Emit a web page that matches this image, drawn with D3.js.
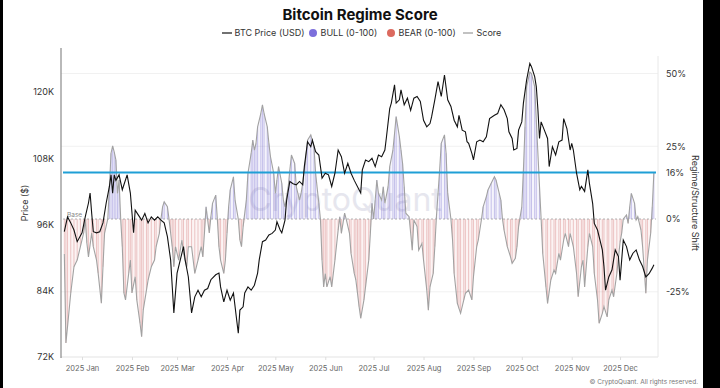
<!DOCTYPE html>
<html>
<head>
<meta charset="utf-8">
<script src="https://cdn.jsdelivr.net/npm/d3@7"></script>
<style>
  body { margin: 0; background: #fff; }
  svg { display: block; font-family: Inter, "Liberation Sans", sans-serif; }
</style>
</head>
<body>
<div id="chart"></div>
<script>
// day offsets from 2025-01-01, BTC price in thousand USD
var priceDays = [-11,-9,-7,-5,-3,0,2,4,5,6,7,9,11,13,15,17,18,19,20,21,23,25,28,30,32,33,35,37,39,41,43,45,47,49,51,53,55,57,59,61,63,64,66,68,70,72,74,76,78,80,83,85,86,88,90,92,94,96,97,98,100,101,103,105,107,109,110,112,114,116,118,120,121,123,124,126,127,129,131,133,135,137,138,140,142,143,145,147,149,151,153,155,157,159,161,163,165,167,169,173,174,176,178,180,182,184,186,188,189,191,192,194,195,197,198,200,202,204,206,208,210,212,214,216,217,219,221,223,225,227,229,231,233,234,236,238,239,240,242,243,245,247,249,251,253,256,258,260,262,264,265,267,268,270,271,273,274,276,278,279,281,282,283,284,285,287,289,290,292,294,296,298,299,301,303,304,305,307,309,310,312,314,315,317,318,320,323,324,325,327,329,331,333,334,336,338,340,342,344,346,348,350,352,354,355];
var priceVals = [94.7,97.4,96.3,95.0,92.9,94.5,97.4,99.9,101.7,98.0,94.7,94.5,94.7,96.3,99.9,102.9,105.0,101.7,105.0,104.0,105.0,102.3,105.0,101.7,94.5,98.6,97.7,96.8,98.0,96.3,97.4,96.8,97.4,96.8,96.3,93.8,89.6,80.0,87.2,89.6,92.0,89.6,86.5,80.0,82.9,84.1,82.9,84.1,84.4,86.0,86.9,87.2,84.7,82.0,84.1,82.3,83.6,78.7,76.3,80.5,81.1,83.6,84.7,84.1,85.0,87.2,89.6,92.9,93.2,94.1,94.4,95.0,96.5,95.0,94.5,96.8,100.4,103.8,103.4,103.2,103.8,103.2,106.5,111.0,110.1,111.3,109.2,108.6,104.4,105.3,105.0,102.9,105.3,109.5,108.3,105.3,107.1,105.3,104.0,101.7,105.9,107.7,107.4,108.0,106.5,108.6,108.3,109.5,111.9,117.0,118.0,121.3,118.0,118.6,120.4,117.7,118.9,116.7,118.9,119.2,118.3,114.9,113.7,114.3,115.5,118.6,121.9,119.2,123.1,118.6,117.4,114.9,113.7,115.8,113.1,112.8,111.0,110.7,108.9,107.7,111.0,111.3,111.0,111.9,115.2,115.8,116.1,117.7,116.8,115.2,112.8,111.6,109.5,109.8,113.1,114.6,118.0,122.2,125.2,124.6,122.8,121.0,116.8,111.6,114.6,113.1,111.6,106.5,110.1,108.6,111.0,111.3,115.2,113.4,109.5,110.7,109.5,105.3,102.3,102.9,102.0,105.9,103.4,99.8,96.2,95.0,91.4,88.4,84.1,86.5,87.8,91.4,90.2,85.9,93.2,92.0,89.6,90.8,91.4,89.6,88.4,86.5,87.1,88.1,88.7];

// regime / structure shift score, percent
var scoreDays = [-11,-10,-9,-7,-5,-3,-1,1,2,3,4,6,7,9,10,12,13,14,16,17,18,19,20,21,22,23,24,25,26,27,29,30,31,33,34,36,37,38,40,41,43,45,46,48,49,50,51,53,54,55,56,57,58,60,62,63,65,66,68,70,72,74,75,76,77,79,80,81,83,84,85,86,88,89,90,91,92,94,95,97,98,99,100,102,103,105,106,107,108,109,111,112,113,115,116,117,119,120,121,122,124,125,126,128,129,130,132,133,135,136,137,139,140,142,144,145,147,148,149,150,151,152,154,155,157,159,160,161,163,164,166,167,169,170,171,172,173,175,176,178,179,180,181,182,183,184,186,187,188,190,191,193,194,195,197,198,199,200,201,203,204,205,206,208,209,211,212,214,215,216,218,219,220,222,223,225,226,227,229,230,231,233,234,235,237,238,240,242,243,245,246,248,249,251,252,254,256,257,259,260,261,262,264,266,267,269,270,271,273,274,275,276,278,279,281,282,284,285,286,288,289,291,293,294,296,297,299,300,302,303,305,307,308,310,311,312,314,315,317,318,320,321,323,324,326,327,329,330,332,334,335,336,338,339,340,341,343,344,345,347,348,350,351,353,354,355];
var scoreVals = [-12,-42.6,-37,-25.4,-16.4,-14.1,-9.5,-4.8,-0.3,-8.2,-13,-4.8,-9.5,-14.1,-18.6,-28.9,-16.4,-4.8,0,11.1,22.6,25.1,23,20.3,8.8,13.4,0,-9.5,-25.4,-27.8,-18.6,-14.1,-25.4,-19.8,-27.8,-35.8,-40.4,-31.3,-24.4,-21,-16.4,-14.1,-9.5,-4.9,0,4.2,5.9,4.2,0,-4.8,-9.5,-16.4,-9.5,-14.1,-7.2,-11.8,-16.4,-9.5,-9.5,-18.7,-14.1,-9.5,-13,-4.8,4.2,-4.8,0.8,5.4,8.2,0,-9.5,-14.1,-18.7,-14.1,-4.8,4.2,10,14.5,6.5,0,-7.2,-9.5,-2.6,6.5,15.7,22.6,27.1,23.7,26,31.7,36.3,39.2,36.3,31.7,26,21.4,15.7,8.8,13.4,18,12.3,6.5,4.2,11.1,16.8,22,19.1,11.1,6.5,8.8,12.3,21.4,27.1,28.9,24.8,15.7,5.4,0,-14.1,-23.3,-18.7,-23.3,-19.8,-23.3,-14.1,-3.8,0.8,-4.9,2,0,-4.8,-11.8,-18.7,-21,-25.5,-30.1,-34.1,-27.8,-23.3,-14.1,-4.9,5.4,0,6.5,13.4,8.8,6.5,11.1,5.4,11.1,18,23.7,29.4,35.2,28.3,23.7,19.1,11.1,2,0.8,-4.8,-10.7,-0.3,-2.6,-10.7,-8.4,-14.1,-24.4,-31.3,-23.3,-18.7,-9.5,0.8,16.8,26,28.9,22.6,8.8,0,-7.2,-18.7,-29,-30.7,-32.4,-27.8,-25.5,-24.4,-27.8,-19.8,-9.5,-7.2,0,4.2,7.7,10,12.3,14.5,13.4,8.8,6.5,0,-3.8,-9.5,-13,-15.2,-13.5,-9.5,-2.6,4.2,16.8,31.7,45.5,50.5,50,45.5,34,11.1,0,-11.8,-23.3,-29,-21,-17.5,-18.7,-11.8,-14.1,-7.2,-4.9,-9.5,-4.9,-9.5,-18.7,-26.7,-16.4,-14.1,-23.3,-9.5,-4.9,-9.5,-18.7,-27.8,-35.8,-32.4,-30.1,-33.6,-27.8,-24.4,-26.7,-18.7,-8,-4.9,0,1.4,-1.5,4.2,8.8,5.4,-0.3,0.8,-3.8,-9.5,-25.5,-14.1,-4.9,4.2,16];

var latestScore = 16;
var priceTicks = [72, 84, 96, 108, 120];
var scoreTicks = [50, 25, latestScore, 0, -25];
var monthTicks = d3.range(0, 12).map(function (m) { return new Date(2025, m, 1); });

function dayToDate(d) { return new Date(2025, 0, 1 + d); }

var svgWidth = 720, svgHeight = 388;
var plot = { left: 61, right: 658, top: 70, bottom: 357 };

var svg = d3.select("#chart").append("svg")
    .attr("width", svgWidth)
    .attr("height", svgHeight);

svg.append("rect").attr("width", svgWidth).attr("height", svgHeight).attr("fill", "#fff");

var x = d3.scaleTime()
    .domain([new Date(2024, 11, 20), new Date(2025, 11, 23)])
    .range([62.7, 655.5]);

var yPrice = d3.scaleLinear().domain([72, 124]).range([plot.bottom, plot.top]);
var yScore = d3.scaleLinear().domain([-47.4, 51.2]).range([plot.bottom, plot.top]);

var price = priceDays.map(function (d, i) { return { date: dayToDate(d), v: priceVals[i] }; });
var score = scoreDays.map(function (d, i) { return { date: dayToDate(d), v: scoreVals[i] }; });

// faint grid
svg.append("g").selectAll("line")
    .data([50, 25, -25])
    .enter().append("line")
    .attr("x1", plot.left).attr("x2", plot.right)
    .attr("y1", function (d) { return yScore(d); })
    .attr("y2", function (d) { return yScore(d); })
    .attr("stroke", "#f1f1f1").attr("stroke-width", 1);

svg.append("line")
    .attr("x1", plot.left).attr("x2", plot.right).attr("y1", plot.bottom).attr("y2", plot.bottom)
    .attr("stroke", "#e3e3e3");
svg.append("line")
    .attr("x1", plot.right).attr("x2", plot.right).attr("y1", 56).attr("y2", plot.bottom)
    .attr("stroke", "#e8e8e8");

// watermark
svg.append("text")
    .attr("x", 345).attr("y", 211)
    .attr("text-anchor", "middle")
    .attr("font-size", 32)
    .attr("fill", "#dcdce8")
    .attr("opacity", 0.7)
    .text("CryptoQuant");

// light fills under the score
var areaPos = d3.area()
    .x(function (d) { return x(d.date); })
    .y0(yScore(0))
    .y1(function (d) { return yScore(Math.max(d.v, 0)); });
var areaNeg = d3.area()
    .x(function (d) { return x(d.date); })
    .y0(yScore(0))
    .y1(function (d) { return yScore(Math.min(d.v, 0)); });

svg.append("path").datum(score).attr("d", areaPos).attr("fill", "rgba(125,115,220,0.08)");
svg.append("path").datum(score).attr("d", areaNeg).attr("fill", "rgba(220,120,120,0.08)");

// BULL / BEAR bars
svg.append("g").selectAll("line")
    .data(score)
    .enter().append("line")
    .attr("x1", function (d) { return x(d.date); })
    .attr("x2", function (d) { return x(d.date); })
    .attr("y1", yScore(0))
    .attr("y2", function (d) { return yScore(d.v); })
    .attr("stroke", function (d) { return d.v >= 0 ? "rgba(105,95,200,0.5)" : "rgba(200,90,90,0.45)"; })
    .attr("stroke-width", 0.7);

// base line
svg.append("line")
    .attr("x1", 63).attr("x2", 656)
    .attr("y1", yScore(0)).attr("y2", yScore(0))
    .attr("stroke", "#a0a0a0").attr("stroke-width", 0.8)
    .attr("stroke-dasharray", "2,2");
svg.append("text")
    .attr("x", 67).attr("y", yScore(0) - 2)
    .attr("font-size", 6.5).attr("fill", "#888")
    .text("Base");

// score line
svg.append("path").datum(score)
    .attr("d", d3.line().x(function (d) { return x(d.date); }).y(function (d) { return yScore(d.v); }))
    .attr("fill", "none").attr("stroke", "#a2a2a2").attr("stroke-width", 1.1);

// latest score level
svg.append("line")
    .attr("x1", 63).attr("x2", 656)
    .attr("y1", yScore(latestScore)).attr("y2", yScore(latestScore))
    .attr("stroke", "#1f9fd6").attr("stroke-width", 2);

// BTC price
svg.append("path").datum(price)
    .attr("d", d3.line().x(function (d) { return x(d.date); }).y(function (d) { return yPrice(d.v); }))
    .attr("fill", "none").attr("stroke", "#111").attr("stroke-width", 1.1);

// axes
var gLeft = svg.append("g")
    .attr("transform", "translate(" + plot.left + ",0)")
    .call(d3.axisLeft(yPrice).tickValues(priceTicks).tickFormat(function (d) { return d + "K"; }).tickSize(0).tickPadding(7));
gLeft.select(".domain").remove();
gLeft.selectAll("text").attr("font-size", 9).attr("fill", "#333").attr("font-family", "Inter, sans-serif");

svg.append("line")
    .attr("x1", plot.left).attr("x2", plot.left).attr("y1", 48).attr("y2", 358)
    .attr("stroke", "#8a8a8a").attr("stroke-width", 1.2);

var gRight = svg.append("g")
    .attr("transform", "translate(" + plot.right + ",0)")
    .call(d3.axisRight(yScore).tickValues(scoreTicks).tickFormat(function (d) { return d + "%"; }).tickSize(0).tickPadding(8));
gRight.select(".domain").remove();
gRight.selectAll("text").attr("font-size", 9).attr("fill", "#333").attr("font-family", "Inter, sans-serif");

var gBottom = svg.append("g")
    .attr("transform", "translate(0," + plot.bottom + ")")
    .call(d3.axisBottom(x).tickValues(monthTicks).tickFormat(d3.timeFormat("%Y %b")).tickSize(3).tickPadding(6));
gBottom.select(".domain").remove();
gBottom.selectAll("line").attr("stroke", "#ddd");
gBottom.selectAll("text").attr("font-size", 7.5).attr("fill", "#666").attr("font-family", "Inter, sans-serif");

// axis titles
svg.append("text")
    .attr("transform", "translate(28,203) rotate(-90)")
    .attr("text-anchor", "middle")
    .attr("font-size", 9).attr("fill", "#333")
    .text("Price ($)");
svg.append("text")
    .attr("transform", "translate(692,203) rotate(90)")
    .attr("text-anchor", "middle")
    .attr("font-size", 9).attr("fill", "#333")
    .text("Regime/Structure Shift");

// title
svg.append("text")
    .attr("x", 360).attr("y", 20)
    .attr("text-anchor", "middle")
    .attr("font-size", 15).attr("font-weight", "bold").attr("fill", "#111")
    .text("Bitcoin Regime Score");

// legend
var legend = svg.append("g").attr("font-size", 9).attr("fill", "#333");
legend.append("line").attr("x1", 222).attr("x2", 232).attr("y1", 33).attr("y2", 33).attr("stroke", "#111").attr("stroke-width", 1.2);
legend.append("text").attr("x", 234.5).attr("y", 36.3).text("BTC Price (USD)");
legend.append("circle").attr("cx", 313).attr("cy", 33).attr("r", 4).attr("fill", "#7c6fdc");
legend.append("text").attr("x", 320.5).attr("y", 36.3).text("BULL (0-100)");
legend.append("circle").attr("cx", 391).attr("cy", 33).attr("r", 4).attr("fill", "#dc6a5f");
legend.append("text").attr("x", 398.5).attr("y", 36.3).text("BEAR (0-100)");
legend.append("line").attr("x1", 463).attr("x2", 473).attr("y1", 33).attr("y2", 33).attr("stroke", "#999").attr("stroke-width", 1.2);
legend.append("text").attr("x", 476.5).attr("y", 36.3).text("Score");

// footer
svg.append("text")
    .attr("x", 698).attr("y", 384)
    .attr("text-anchor", "end")
    .attr("font-size", 6.5).attr("fill", "#777")
    .text("\u00a9 CryptoQuant. All rights reserved.");

// dark frame edges of the screenshot
svg.append("rect").attr("x", 0).attr("y", 0).attr("width", 3).attr("height", svgHeight).attr("fill", "#000");
svg.append("rect").attr("x", 703).attr("y", 0).attr("width", 17).attr("height", svgHeight).attr("fill", "#000");
</script>
</body>
</html>
